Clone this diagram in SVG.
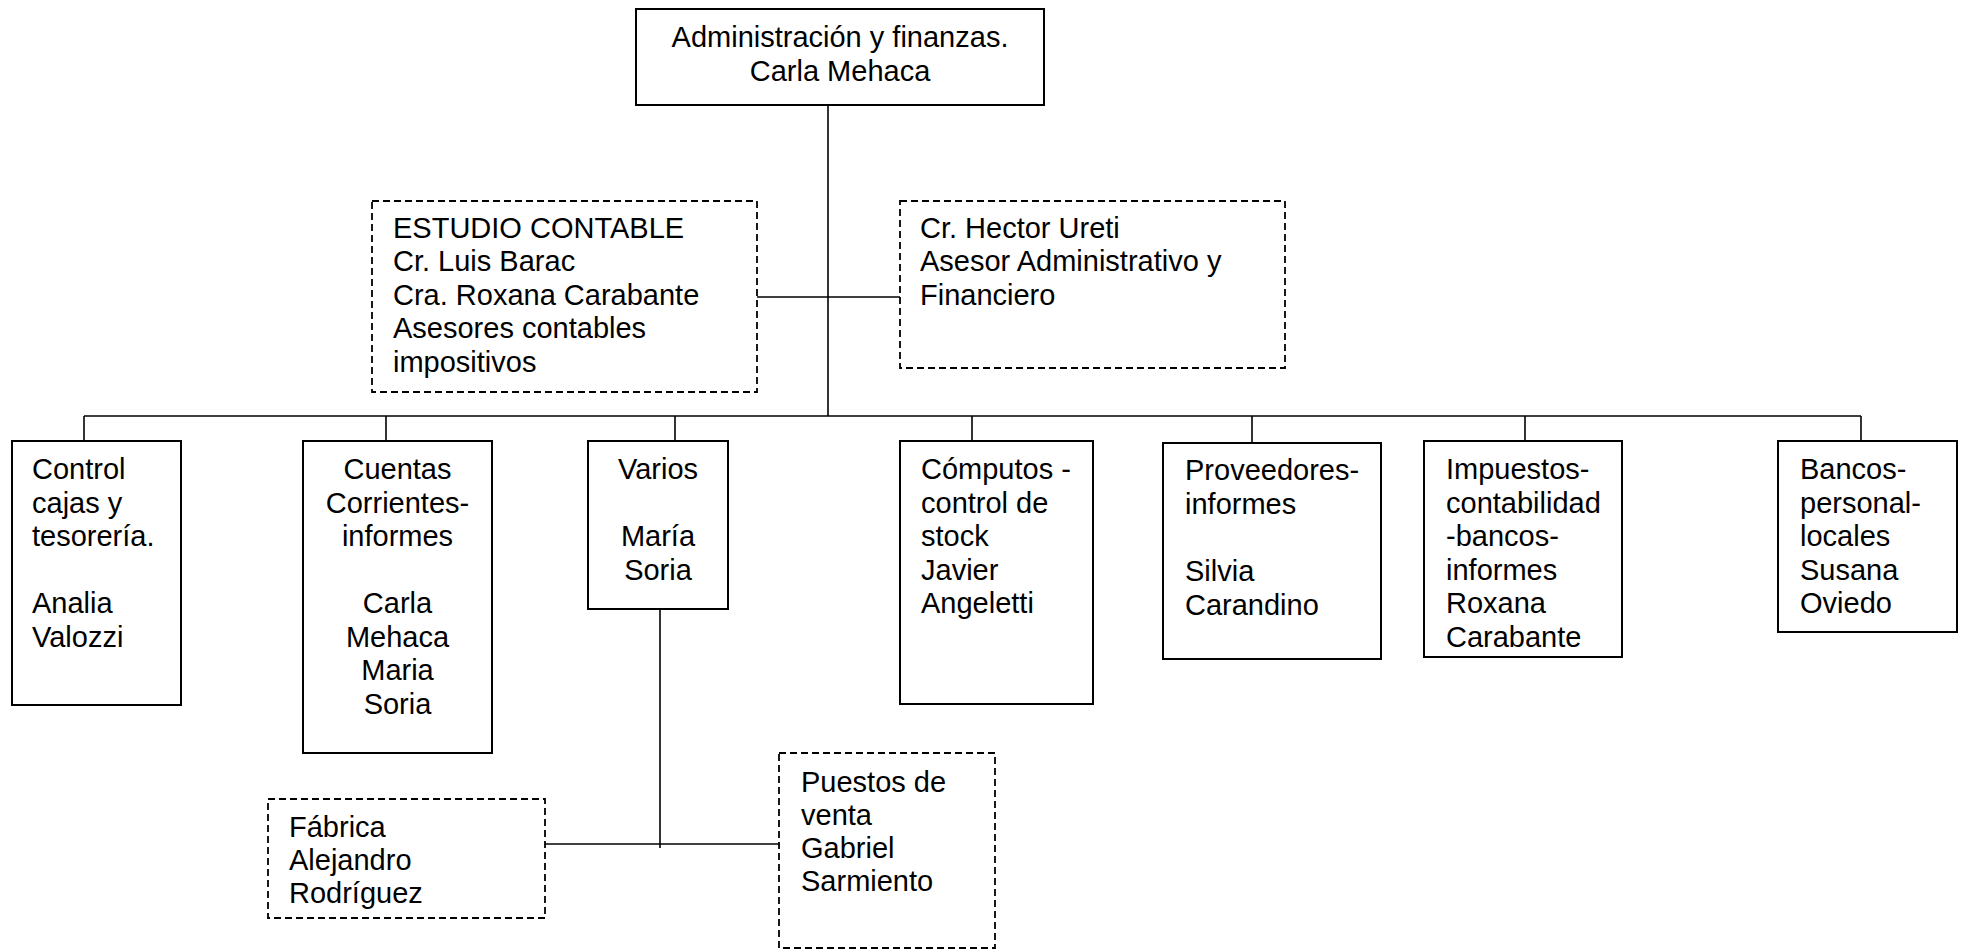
<svg xmlns="http://www.w3.org/2000/svg" width="1966" height="950" viewBox="0 0 1966 950">
<style>
  .box { fill: #ffffff; stroke: #000000; stroke-width: 2; }
  .dbox { fill: #ffffff; stroke: #000000; stroke-width: 1.8; stroke-dasharray: 7 4; }
  .ln { fill: none; stroke: #000000; stroke-width: 1.6; }
  text { font-family: "Liberation Sans", Arial, sans-serif; font-size: 29px; fill: #000000; }
  .c { text-anchor: middle; }
</style>
<rect width="1966" height="950" fill="#ffffff"/>
<g id="connectors">
  <line class="ln" x1="828" y1="105" x2="828" y2="416"/>
  <line class="ln" x1="757" y1="297" x2="900" y2="297"/>
  <line class="ln" x1="84" y1="416" x2="1861" y2="416"/>
  <line class="ln" x1="84" y1="416" x2="84" y2="441"/>
  <line class="ln" x1="386" y1="416" x2="386" y2="441"/>
  <line class="ln" x1="675" y1="416" x2="675" y2="441"/>
  <line class="ln" x1="972" y1="416" x2="972" y2="441"/>
  <line class="ln" x1="1252" y1="416" x2="1252" y2="443"/>
  <line class="ln" x1="1525" y1="416" x2="1525" y2="441"/>
  <line class="ln" x1="1861" y1="416" x2="1861" y2="441"/>
  <line class="ln" x1="660" y1="609" x2="660" y2="848"/>
  <line class="ln" x1="545" y1="844" x2="779" y2="844"/>
</g>
<g id="admin">
  <rect class="box" x="636" y="9" width="408" height="96"/>
  <text class="c" x="840" y="47">Administración y finanzas.</text>
  <text class="c" x="840" y="81">Carla Mehaca</text>
</g>
<g id="estudio">
  <rect class="dbox" x="372" y="201" width="385" height="191"/>
  <text x="393" y="238">ESTUDIO CONTABLE</text>
  <text x="393" y="271">Cr. Luis Barac</text>
  <text x="393" y="305">Cra. Roxana Carabante</text>
  <text x="393" y="338">Asesores contables</text>
  <text x="393" y="372">impositivos</text>
</g>
<g id="hector">
  <rect class="dbox" x="900" y="201" width="385" height="167"/>
  <text x="920" y="238">Cr. Hector Ureti</text>
  <text x="920" y="271">Asesor Administrativo y</text>
  <text x="920" y="305">Financiero</text>
</g>
<g id="control">
  <rect class="box" x="12" y="441" width="169" height="264"/>
  <text x="32" y="479">Control</text>
  <text x="32" y="512.5">cajas y</text>
  <text x="32" y="546">tesorería.</text>
  <text x="32" y="613">Analia</text>
  <text x="32" y="646.5">Valozzi</text>
</g>
<g id="cuentas">
  <rect class="box" x="303" y="441" width="189" height="312"/>
  <text class="c" x="397.5" y="479">Cuentas</text>
  <text class="c" x="397.5" y="512.5">Corrientes-</text>
  <text class="c" x="397.5" y="546">informes</text>
  <text class="c" x="397.5" y="613">Carla</text>
  <text class="c" x="397.5" y="646.5">Mehaca</text>
  <text class="c" x="397.5" y="680">Maria</text>
  <text class="c" x="397.5" y="713.5">Soria</text>
</g>
<g id="varios">
  <rect class="box" x="588" y="441" width="140" height="168"/>
  <text class="c" x="658" y="479">Varios</text>
  <text class="c" x="658" y="546">María</text>
  <text class="c" x="658" y="579.5">Soria</text>
</g>
<g id="computos">
  <rect class="box" x="900" y="441" width="193" height="263"/>
  <text x="921" y="479">Cómputos -</text>
  <text x="921" y="512.5">control de</text>
  <text x="921" y="546">stock</text>
  <text x="921" y="579.5">Javier</text>
  <text x="921" y="613">Angeletti</text>
</g>
<g id="proveedores">
  <rect class="box" x="1163" y="443" width="218" height="216"/>
  <text x="1185" y="480">Proveedores-</text>
  <text x="1185" y="513.5">informes</text>
  <text x="1185" y="581">Silvia</text>
  <text x="1185" y="614.5">Carandino</text>
</g>
<g id="impuestos">
  <rect class="box" x="1424" y="441" width="198" height="216"/>
  <text x="1446" y="479">Impuestos-</text>
  <text x="1446" y="512.5">contabilidad</text>
  <text x="1446" y="546">-bancos-</text>
  <text x="1446" y="579.5">informes</text>
  <text x="1446" y="613">Roxana</text>
  <text x="1446" y="646.5">Carabante</text>
</g>
<g id="bancos">
  <rect class="box" x="1778" y="441" width="179" height="191"/>
  <text x="1800" y="479">Bancos-</text>
  <text x="1800" y="512.5">personal-</text>
  <text x="1800" y="546">locales</text>
  <text x="1800" y="579.5">Susana</text>
  <text x="1800" y="613">Oviedo</text>
</g>
<g id="fabrica">
  <rect class="dbox" x="268" y="799" width="277" height="119"/>
  <text x="289" y="837">Fábrica</text>
  <text x="289" y="870">Alejandro</text>
  <text x="289" y="903">Rodríguez</text>
</g>
<g id="puestos">
  <rect class="dbox" x="779" y="753" width="216" height="195"/>
  <text x="801" y="792">Puestos de</text>
  <text x="801" y="825">venta</text>
  <text x="801" y="858">Gabriel</text>
  <text x="801" y="891">Sarmiento</text>
</g>
</svg>
